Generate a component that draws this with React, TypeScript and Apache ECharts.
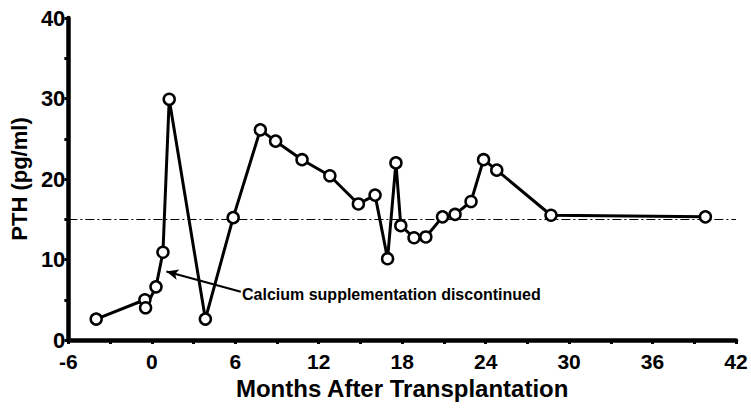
import React, { useEffect, useRef } from "react";
import * as echarts from "echarts";

const months = [-4.0, -0.5, -0.45, 0.3, 0.8, 1.25, 3.85, 5.85, 7.8, 8.9, 10.8, 12.8, 14.85, 16.05, 16.95, 17.55, 17.9, 18.85, 19.7, 20.9, 21.8, 22.95, 23.85, 24.8, 28.7, 39.8];
const pth = [2.6, 5.0, 4.0, 6.6, 10.9, 29.9, 2.6, 15.2, 26.1, 24.7, 22.4, 20.4, 16.9, 18.0, 10.1, 22.0, 14.2, 12.7, 12.8, 15.3, 15.6, 17.2, 22.4, 21.1, 15.5, 15.3];
const referenceLevel = 15;
const xTicks = [-6, 0, 6, 12, 18, 24, 30, 36, 42];
const yTicks = [0, 10, 20, 30, 40];
const annotationText = "Calcium supplementation discontinued";
const arrowFrom = [6.4, 6.0];
const arrowTo = [1.05, 8.5];

const FONT = "'Liberation Sans', Arial, sans-serif";

export default function App() {
  const ref = useRef<HTMLDivElement>(null);
  useEffect(() => {
    const chart = echarts.init(ref.current!, undefined, { renderer: "svg" });
    const data = months.map((m, i) => [m, pth[i]]);
    chart.setOption({
      animation: false,
      backgroundColor: "#ffffff",
      grid: { left: 67, right: 15, top: 18, bottom: 74, containLabel: false },
      xAxis: {
        type: "value",
        min: xTicks[0],
        max: xTicks[xTicks.length - 1],
        interval: 6,
        name: "Months After Transplantation",
        nameLocation: "middle",
        nameGap: 31,
        nameTextStyle: { fontFamily: FONT, fontWeight: "bold", fontSize: 24, color: "#000" },
        axisLine: { show: true, onZero: false, lineStyle: { color: "#000", width: 4.5 } },
        axisTick: { show: true, length: 4, lineStyle: { color: "#000", width: 3 } },
        minorTick: { show: true, splitNumber: 2, length: 4, lineStyle: { color: "#000", width: 3 } },
        splitLine: { show: false },
        axisLabel: { fontFamily: FONT, fontWeight: "bold", fontSize: 21, color: "#000", margin: 11 },
      },
      yAxis: {
        type: "value",
        min: yTicks[0],
        max: yTicks[yTicks.length - 1],
        interval: 10,
        name: "PTH (pg/ml)",
        nameLocation: "middle",
        nameGap: 34,
        nameRotate: 90,
        nameTextStyle: { fontFamily: FONT, fontWeight: "bold", fontSize: 22, color: "#000" },
        axisLine: { show: true, onZero: false, lineStyle: { color: "#000", width: 4.5 } },
        axisTick: { show: true, length: 4, lineStyle: { color: "#000", width: 3 } },
        minorTick: { show: true, splitNumber: 2, length: 4, lineStyle: { color: "#000", width: 3 } },
        splitLine: { show: false },
        axisLabel: { fontFamily: FONT, fontWeight: "bold", fontSize: 22, color: "#000", margin: 3 },
      },
      series: [
        {
          type: "line",
          data,
          symbol: "circle",
          symbolSize: 11,
          lineStyle: { color: "#000", width: 3 },
          itemStyle: { color: "#fff", borderColor: "#000", borderWidth: 2.5 },
          z: 5,
          markLine: {
            silent: true,
            symbol: "none",
            label: { show: false },
            z: 1,
            data: [
              {
                yAxis: referenceLevel,
                lineStyle: { color: "#000", width: 1.2, type: [9, 3, 2, 3] },
              },
              [
                { coord: arrowFrom, symbol: "none" },
                { coord: arrowTo, symbol: "arrow", symbolSize: [8, 12] },
              ],
            ],
            lineStyle: { color: "#000", width: 2, type: "solid" },
          },
        },
      ],
      graphic: [
        {
          type: "text",
          left: 242,
          top: 286,
          style: {
            text: annotationText,
            fontFamily: FONT,
            fontWeight: "bold",
            fontSize: 16,
            fill: "#000",
          },
        },
      ],
    });
    return () => chart.dispose();
  }, []);
  return <div ref={ref} style={{ width: 751, height: 414, position: "absolute", left: 0, top: 0 }} />;
}
